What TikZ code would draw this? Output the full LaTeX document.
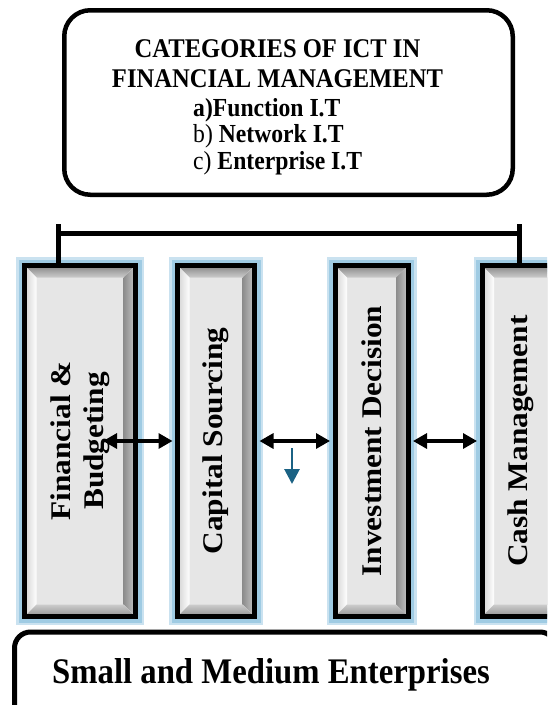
\documentclass[tikz,border=0pt]{standalone}
\usepackage{fontspec}
\usepackage{graphicx}
\setmainfont{Liberation Serif}
\newfontfamily\hfont[FakeStretch=0.91]{Liberation Serif}
\newfontfamily\vfont[FakeStretch=1.1]{Liberation Serif}
\usepackage{tikz}
\usetikzlibrary{arrows.meta, positioning}
\definecolor{glowblue}{HTML}{9FCBE3}
\definecolor{innergray}{HTML}{E6E6E6}
\definecolor{downblue}{HTML}{1B6284}
\tikzstyle{arrow} = [line width=3.2pt, shorten >=2.5pt, {Triangle[length=14pt,width=15pt]}-{Triangle[length=14pt,width=15pt]}]
\tikzstyle{downarrow} = [line width=2.8pt, draw=downblue, -{Triangle[length=15pt,width=15pt]}]
\tikzstyle{bracket} = [line width=5pt]
\tikzstyle{bevel} = [path picture={
  \coordinate (pnw) at (path picture bounding box.north west);
  \coordinate (pne) at (path picture bounding box.north east);
  \coordinate (psw) at (path picture bounding box.south west);
  \coordinate (pse) at (path picture bounding box.south east);
  \fill[top color=gray!95, bottom color=gray!40] (pnw) -- (pne) -- ([shift={(-12pt,-12pt)}]pne) -- ([shift={(12pt,-12pt)}]pnw) -- cycle;
  \fill[left color=gray!35, right color=white] (pnw) -- ([shift={(12pt,-12pt)}]pnw) -- ([shift={(12pt,12pt)}]psw) -- (psw) -- cycle;
  \fill[left color=gray!90, right color=gray!45] (pne) -- (pse) -- ([shift={(-12pt,12pt)}]pse) -- ([shift={(-12pt,-12pt)}]pne) -- cycle;
  \fill[top color=gray!40, bottom color=gray!85] (psw) -- (pse) -- ([shift={(-12pt,12pt)}]pse) -- ([shift={(12pt,12pt)}]psw) -- cycle;
}]
\tikzstyle{column} = [draw=black, line width=5pt, fill=innergray, minimum height=351pt, inner sep=0pt,
  font=\vfont\bfseries\fontsize{28.5}{33}\selectfont,
  preaction={draw=glowblue!55, line width=17pt},
  preaction={draw=glowblue, line width=12pt}, bevel]

\begin{document}
\begin{tikzpicture}[x=1pt, y=1pt]
\useasboundingbox (0,0) rectangle (547,-705);
\clip (0,0) rectangle (547,-705);

% categories box
\node [draw, line width=4.5pt, rounded corners=26pt, minimum width=448.5pt, minimum height=184.5pt] (ict) at (288.5,-102.5) {};
\node [anchor=north, align=center, inner sep=0pt, font=\hfont\bfseries\fontsize{27}{30}\selectfont] (title) at (277.5,-39) {CATEGORIES OF ICT IN\\FINANCIAL MANAGEMENT};
\node [anchor=north west, align=left, inner sep=0pt, font=\hfont\fontsize{26}{26.5}\selectfont] (types) at (193,-98) {\textbf{a)Function I.T}\\b) \textbf{Network I.T}\\c) \textbf{Enterprise I.T}};

% columns
\node [column, minimum width=111pt] (fin) at (80,-441) {\rotatebox{90}{\begin{tabular}{@{}c@{}}Financial \&\\Budgeting\end{tabular}}};
\node [column, minimum width=77pt] (cap) at (216,-441) {\rotatebox{90}{Capital Sourcing}};
\node [column, minimum width=73pt] (inv) at (371.5,-441) {\rotatebox{90}{Investment Decision}};
\node [column, minimum width=77pt] (cash) at (520.5,-441) {\rotatebox{90}{Cash Management}};

% bracket
\coordinate (bl) at (58,-224);
\coordinate (br) at (519,-224);
\draw [bracket] (bl) -- (bl |- fin.north);
\draw [bracket] (br) -- (br |- cash.north);
\draw [bracket] ([yshift=-9pt]bl) -- ([yshift=-9pt]br);

% links
\coordinate (finmid) at (103,-441);
\draw [arrow] (finmid) -- (cap.west);
\draw [arrow, shorten <=2.5pt] (cap.east) -- (inv.west);
\draw [arrow, shorten <=2.5pt] (inv.east) -- (cash.west);

\coordinate (dtop) at (292,-448);
\coordinate (dbot) at (292,-484);
\draw [downarrow] (dtop) -- (dbot);

% enterprises box
\node [draw, line width=5pt, rounded corners=16pt, minimum width=541.5pt, minimum height=90pt] (sme) at (285.25,-677) {};
\node [anchor=base, inner sep=0pt, font=\hfont\bfseries\fontsize{36}{40}\selectfont] (smetext) at (271,-683) {Small and Medium Enterprises};
\end{tikzpicture}
\end{document}
